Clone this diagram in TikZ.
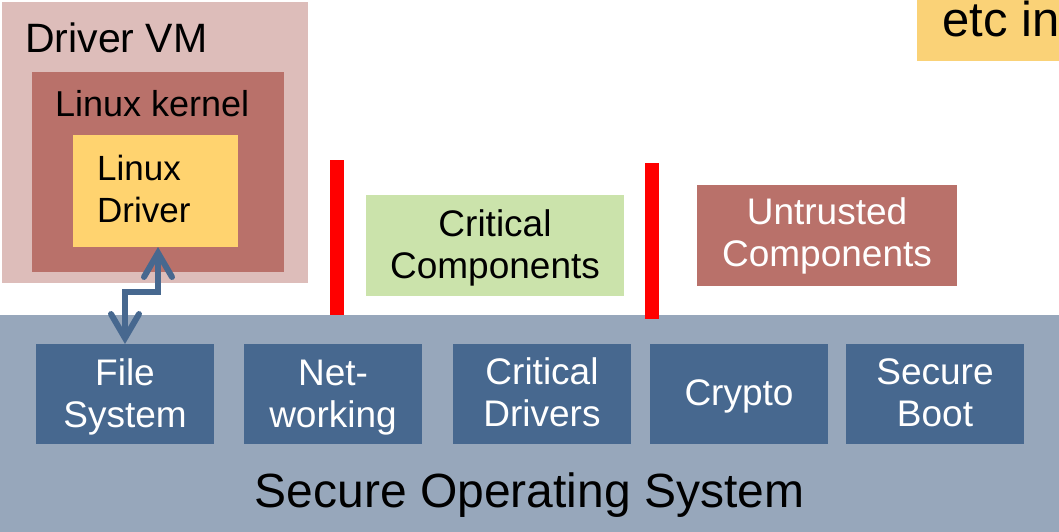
\documentclass[tikz,border=0pt]{standalone}
\usepackage{fontspec}
\setmainfont{Liberation Sans}
\usetikzlibrary{arrows.meta}
\definecolor{vmpink}{HTML}{DDBDBA}
\definecolor{kernelred}{HTML}{B9716A}
\definecolor{drvyellow}{HTML}{FFD36F}
\definecolor{etcyellow}{HTML}{FAD277}
\definecolor{critgreen}{HTML}{CBE3AB}
\definecolor{osgrey}{HTML}{97A7BB}
\definecolor{osblue}{HTML}{47688F}
\definecolor{barred}{HTML}{FF0000}
\tikzset{
  blk/.style={rectangle, inner sep=0pt, outer sep=0pt, draw=none},
  txt/.style={inner sep=0pt, font=\fontsize{37}{42}\selectfont, align=center, anchor=base},
  osbox/.style={blk, fill=osblue, minimum width=178pt, minimum height=100pt},
  wtxt/.style={txt, text=white},
  redbar/.style={blk, fill=barred, minimum width=14pt},
  link/.style={draw=osblue, line width=6pt, line cap=round, line join=miter,
    {Straight Barb[length=24pt, width=28pt, line cap=round]}-{Straight Barb[length=24pt, width=28pt, line cap=round]}},
}
\begin{document}
\begin{tikzpicture}[x=1pt, y=-1pt]
\clip (0,0) rectangle (1059,532);
\fill[white] (0,0) rectangle (1059,532);
% Driver VM
\node[blk, fill=vmpink, minimum width=306pt, minimum height=281pt] (vm) at (155,142.5) {};
\node[anchor=base west, inner sep=0pt, font=\fontsize{41}{42}\selectfont] (vmlabel) at (25,53) {Driver VM};
\node[blk, fill=kernelred, minimum width=252pt, minimum height=200pt] (kernel) at (158,172) {};
\node[anchor=base west, inner sep=0pt, font=\fontsize{36}{42}\selectfont] (kernellabel) at (55,117) {Linux kernel};
\node[blk, fill=drvyellow, minimum width=165pt, minimum height=112pt] (ld) at (155.5,191) {};
\node[anchor=base west, inner sep=0pt, font=\fontsize{35}{42}\selectfont, align=left] (ldlabel) at (97,222) {Linux\\Driver};
% etc box
\node[blk, fill=etcyellow, minimum width=200pt, minimum height=61pt, anchor=north west] (etc) at (917,0) {};
\node[anchor=base west, inner sep=0pt, font=\fontsize{49}{50}\selectfont] (etclabel) at (942,37) {etc in};
% Secure OS
\node[blk, fill=osgrey, minimum width=1059pt, minimum height=217pt] (os) at (529.5,423.5) {};
\node[anchor=base, inner sep=0pt, font=\fontsize{48}{50}\selectfont] (oslabel) at (529.5,507) {Secure Operating System};
\node[osbox] (fs) at (125,394) {};
\node[osbox] (net) at (333,394) {};
\node[osbox] (cd) at (542,394) {};
\node[osbox] (cr) at (739,394) {};
\node[osbox] (sb) at (935,394) {};
\node[wtxt] (fstext) at (fs.center |- 0,427) {File\\System};
\node[wtxt] (nettext) at (net.center |- 0,427) {Net-\\working};
\node[wtxt] (cdtext) at (cd.center |- 0,426) {Critical\\Drivers};
\node[wtxt] (crtext) at (cr.center |- 0,405) {Crypto};
\node[wtxt] (sbtext) at (sb.center |- 0,426) {Secure\\Boot};
% components
\node[blk, fill=critgreen, minimum width=258pt, minimum height=101pt] (cc) at (495,245.5) {};
\node[txt] (cctext) at (cc.center |- 0,278) {Critical\\Components};
\node[blk, fill=kernelred, minimum width=260pt, minimum height=101pt] (uc) at (827,235.5) {};
\node[wtxt] (uctext) at (uc.center |- 0,266) {Untrusted\\Components};
% red bars
\node[redbar, minimum height=155pt] (rb1) at (337,237.5) {};
\node[redbar, minimum height=156pt] (rb2) at (652,241) {};
% connector
\draw[link] ([xshift=2.5pt]ld.south) -- ++(0,45) -| (fs.north);
\end{tikzpicture}
\end{document}
